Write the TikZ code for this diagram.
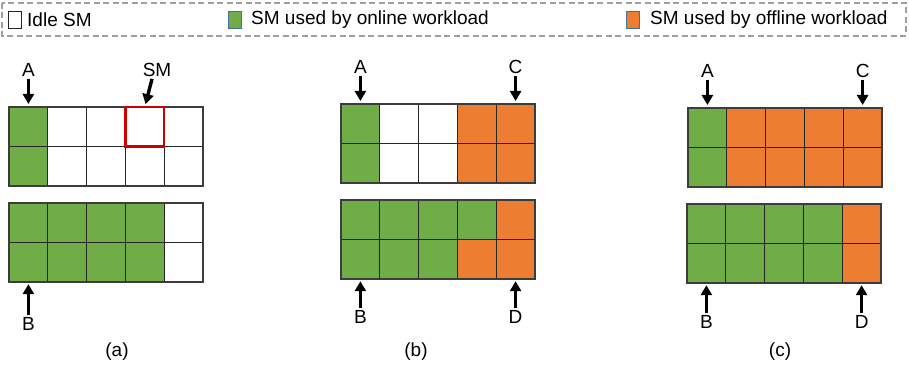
\documentclass[tikz,border=0pt]{standalone}
\usepackage{fontspec}
\setmainfont{Liberation Sans}
\usetikzlibrary{arrows.meta}
\definecolor{smgreen}{HTML}{70AD47}
\definecolor{smorange}{HTML}{ED7D31}
\definecolor{gridline}{HTML}{262626}
\definecolor{legborder}{HTML}{41719C}
\tikzset{
  cell/.style={draw=gridline, line width=1pt, minimum width=38.8pt, minimum height=39.6pt, inner sep=0pt, outer sep=0pt, anchor=north west},
  frame/.style={draw=gridline!90, line width=1.6pt},
  lab/.style={font=\fontsize{19}{21}\selectfont, inner sep=2pt},
  bigarrow/.style={line width=3.4pt, -{Triangle[width=11pt,length=10pt]}},
  legbox/.style={draw=gridline, line width=0.9pt, minimum width=13pt, minimum height=17pt, inner sep=0pt},
  legtext/.style={font=\fontsize{19}{21}\selectfont, anchor=west, inner sep=0pt}
}
\newcommand\smgrid[5]{%
  \foreach \s [count=\i] in {#4} {\node[cell, fill=\s] (#1-1-\i) at ({#2+(\i-1)*38.8},{#3}) {};}
  \foreach \s [count=\i] in {#5} {\node[cell, fill=\s] (#1-2-\i) at ({#2+(\i-1)*38.8},{#3+39.6}) {};}
  \draw[frame] (#1-1-1.north west) rectangle (#1-2-5.south east);
}
\begin{document}
\begin{tikzpicture}[x=1pt,y=-1pt]
\useasboundingbox (0,0) rectangle (909,374);
% legend
\draw[draw=gray!75, line width=1.2pt, dash pattern=on 6pt off 3.5pt] (2,3) rectangle (906,36);
\node[legbox, fill=white] (lw) at (14.5,20) {};
\node[legtext] (lwt) at (27,20) {Idle SM};
\node[legbox, fill=smgreen, draw=legborder] (lg) at (234.5,20) {};
\node[legtext] (lgt) at (251,20) {SM used by online workload};
\node[legbox, fill=smorange, draw=legborder] (lo) at (632.5,20) {};
\node[legtext] (lot) at (650,20) {SM used by offline workload};

% panel (a)
\smgrid{at}{9}{107}{smgreen,white,white,white,white}{smgreen,white,white,white,white}
\smgrid{ab}{9}{203}{smgreen,smgreen,smgreen,smgreen,white}{smgreen,smgreen,smgreen,smgreen,white}
\draw[draw=red!80!black, line width=2.4pt] (at-1-4.north west) rectangle (at-1-4.south east);
\node[lab] (aA) at (28.4,70) {A};
\draw[bigarrow, shorten >=3pt] (aA.south) -- (at-1-1.north);
\node[lab] (aSM) at (157,70) {SM};
\draw[bigarrow, shorten >=3pt] (aSM.south) ++(-5,0) -- (at-1-4.north);
\node[lab] (aB) at (28.4,324) {B};
\draw[bigarrow, shorten >=2pt] (aB.north) -- (ab-2-1.south);
\node[lab] (capa) at (117,352) {(a)};

% panel (b)
\smgrid{bt}{341}{104}{smgreen,white,white,smorange,smorange}{smgreen,white,white,smorange,smorange}
\smgrid{bb}{341}{200}{smgreen,smgreen,smgreen,smgreen,smorange}{smgreen,smgreen,smgreen,smorange,smorange}
\node[lab] (bA) at (360.4,67) {A};
\draw[bigarrow, shorten >=3pt] (bA.south) -- (bt-1-1.north);
\node[lab] (bC) at (515.6,67) {C};
\draw[bigarrow, shorten >=3pt] (bC.south) -- (bt-1-5.north);
\node[lab] (bB) at (360.4,317) {B};
\draw[bigarrow, shorten >=2pt] (bB.north) -- (bb-2-1.south);
\node[lab] (bD) at (515.6,317) {D};
\draw[bigarrow, shorten >=2pt] (bD.north) -- (bb-2-5.south);
\node[lab] (capb) at (416,352) {(b)};

% panel (c)
\smgrid{ct}{688}{108}{smgreen,smorange,smorange,smorange,smorange}{smgreen,smorange,smorange,smorange,smorange}
\smgrid{cb}{687}{204}{smgreen,smgreen,smgreen,smgreen,smorange}{smgreen,smgreen,smgreen,smgreen,smorange}
\node[lab] (cA) at (707.4,71) {A};
\draw[bigarrow, shorten >=3pt] (cA.south) -- (ct-1-1.north);
\node[lab] (cC) at (862.6,71) {C};
\draw[bigarrow, shorten >=3pt] (cC.south) -- (ct-1-5.north);
\node[lab] (cB) at (706.4,322) {B};
\draw[bigarrow, shorten >=2pt] (cB.north) -- (cb-2-1.south);
\node[lab] (cD) at (861.6,322) {D};
\draw[bigarrow, shorten >=2pt] (cD.north) -- (cb-2-5.south);
\node[lab] (capc) at (780,352) {(c)};
\end{tikzpicture}
\end{document}
